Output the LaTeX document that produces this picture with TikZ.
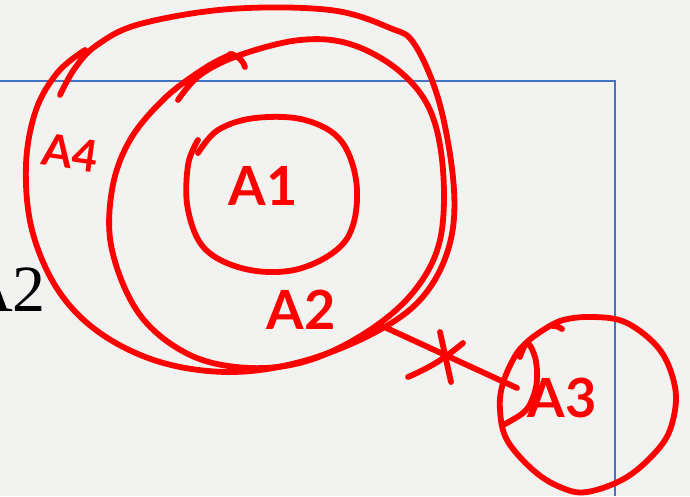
\documentclass[tikz,border=0pt]{standalone}
\usepackage{fontspec}
\setmainfont{Liberation Serif}
\newfontfamily\handfont{Lato}
\definecolor{bgc}{HTML}{F2F2F0}
\definecolor{frameblue}{HTML}{4472C4}
\definecolor{ink}{HTML}{FF0000}
\begin{document}
\begin{tikzpicture}[x=1pt,y=-1pt,
  pen/.style={draw=ink,line width=5.8pt,line cap=round,line join=round},
  hand/.style={text=ink,font=\handfont\bfseries\fontsize{54}{54}\selectfont,inner sep=0pt},
  frame/.style={draw=frameblue,line width=1.3pt}]
\fill[bgc] (0,0) rectangle (690,496);
\useasboundingbox (0,0) rectangle (690,496);
% slide frame
\coordinate (fa) at (0,81);
\coordinate (fb) at (615,81);
\coordinate (fc) at (615,496);
\draw[frame] (fa) -- (fb) -- (fc);
% black slide text
\node[anchor=base east,inner sep=0pt,font=\fontsize{66}{66}\selectfont] (slideA2) at (46,311) {A2};
% outer loop A4
\draw[pen] plot[smooth,tension=0.6] coordinates {(60,95) (75,68) (97,45) (140,24) (230,9) (330,10) (390,28) (415,45) (440,105) (454,190) (448,250) (420,300) (370,335) (300,362) (230,372) (160,362) (100,333) (58,290) (32,230) (26,165) (36,110) (58,72) (85,50)};
% A2 loop
\draw[pen] plot[smooth,tension=0.6] coordinates {(178,100) (200,75) (240,55) (300,40) (350,44) (398,70) (430,110) (443,170) (440,240) (415,290) (370,330) (310,360) (250,368) (190,355) (140,315) (112,250) (112,190) (130,140) (165,98) (205,68) (232,54)};
\draw[pen] (230,54) to[bend left=30] (245,67);
% A1 loop
\draw[pen] plot[smooth,tension=0.6] coordinates {(198,153) (218,130) (255,118) (305,120) (342,142) (357,190) (346,240) (302,268) (250,270) (206,250) (188,210) (188,165) (198,140)};
% A3 loop
\draw[pen] plot[smooth,tension=0.6] coordinates {(533,337) (560,321) (593,317) (627,323) (660,350) (675,387) (673,420) (660,447) (627,477) (587,492) (560,487) (533,470) (507,440) (500,410) (503,383) (517,353) (533,337)};
\draw[pen] plot[smooth,tension=0.6] coordinates {(503,425) (523,413) (532,400) (537,380) (535,357) (527,343) (520,357)};
\draw[pen] (553,326) to[bend left=20] (562,329);
% connector with cross mark
\coordinate (c1) at (380,325);
\coordinate (c2) at (517,388);
\draw[pen] (c1) -- (c2);
\coordinate (x1) at (440,332);
\coordinate (x2) at (451,382);
\coordinate (x3) at (408,377);
\coordinate (x4) at (463,343);
\draw[pen] (x1) -- (x2);
\draw[pen] (x3) to[bend right=8] (x4);
% handwritten labels
\node[hand] (lA1) at (263,186) {A1};
\node[hand] (lA2) at (301,310) {A2};
\node[hand,rotate=-8,font=\handfont\bfseries\fontsize{44}{44}\selectfont] (lA4) at (70,153) {A4};
\node[hand] (lA3) at (562,398) {A3};
\end{tikzpicture}
\end{document}
